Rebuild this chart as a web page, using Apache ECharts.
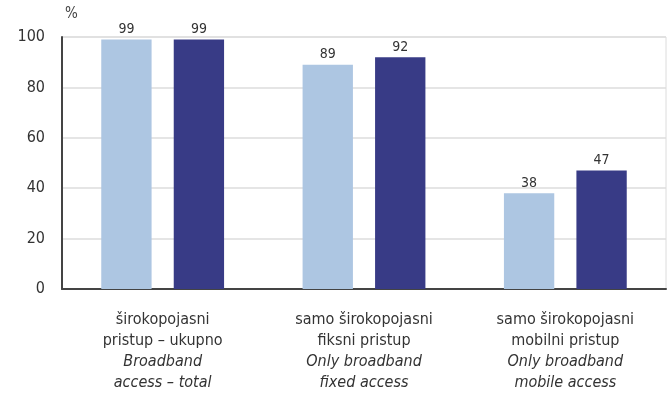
<!DOCTYPE html>
<html>
<head>
<meta charset="utf-8">
<script src="https://cdn.jsdelivr.net/npm/echarts@6/dist/echarts.min.js"></script>
<style>
  html, body { margin: 0; padding: 0; background: #ffffff; }
  #chart { width: 671px; height: 396px; }
</style>
</head>
<body>
<div id="chart"></div>
<script>
// Broadband access categories (Croatian line pair + English line pair)
const categoriesHr = [
  ['širokopojasni', 'pristup – ukupno'],
  ['samo širokopojasni', 'fiksni pristup'],
  ['samo širokopojasni', 'mobilni pristup']
];
const categoriesEn = [
  ['Broadband', 'access – total'],
  ['Only broadband', 'fixed access'],
  ['Only broadband', 'mobile access']
];
const seriesLight = [99, 89, 38];
const seriesDark = [99, 92, 47];
const yTicks = [0, 20, 40, 60, 80, 100];

const FONT = '"Liberation Sans Narrow", "DejaVu Sans Condensed", "Arial Narrow", sans-serif';

const categories = categoriesHr.map((hr, i) =>
  hr.join('\n') + '\n{it|' + categoriesEn[i][0] + '}\n{it|' + categoriesEn[i][1] + '}'
);

const chart = echarts.init(document.getElementById('chart'), null, { renderer: 'canvas' });

const labelStyle = {
  show: true,
  position: 'top',
  distance: 3,
  color: '#333333',
  fontFamily: FONT,
  fontSize: 14
};

chart.setOption({
  animation: false,
  backgroundColor: '#ffffff',
  grid: {
    left: 62, right: 5, top: 37, bottom: 107, containLabel: false,
    show: true, borderColor: '#dcdcdc', borderWidth: 1
  },
  xAxis: {
    type: 'category',
    data: categories,
    axisLine: { lineStyle: { color: '#444444', width: 2 } },
    axisTick: { show: false },
    axisLabel: {
      interval: 0,
      margin: 20,
      color: '#333333',
      fontFamily: FONT,
      fontSize: 16,
      lineHeight: 21,
      rich: {
        it: { fontStyle: 'italic', fontFamily: FONT, fontSize: 16, lineHeight: 21, color: '#333333' }
      }
    },
    splitLine: { show: false }
  },
  yAxis: {
    type: 'value',
    min: yTicks[0],
    max: yTicks[yTicks.length - 1],
    interval: 20,
    name: '%',
    nameLocation: 'end',
    nameGap: 15,
    nameTextStyle: { color: '#444444', fontFamily: FONT, fontSize: 15, align: 'left', padding: [0, 0, 0, 3] },
    axisLine: { show: true, lineStyle: { color: '#444444', width: 2 } },
    axisTick: { show: false },
    axisLabel: { margin: 17, color: '#333333', fontFamily: FONT, fontSize: 16 },
    splitLine: { show: true, lineStyle: { color: '#dcdcdc', width: 1.5 } }
  },
  series: [
    {
      type: 'bar',
      data: seriesLight,
      barWidth: '25%',
      barGap: '44%',
      itemStyle: { color: '#adc6e2' },
      label: labelStyle
    },
    {
      type: 'bar',
      data: seriesDark,
      barWidth: '25%',
      itemStyle: { color: '#383b86' },
      label: labelStyle
    }
  ]
});
</script>
</body>
</html>
